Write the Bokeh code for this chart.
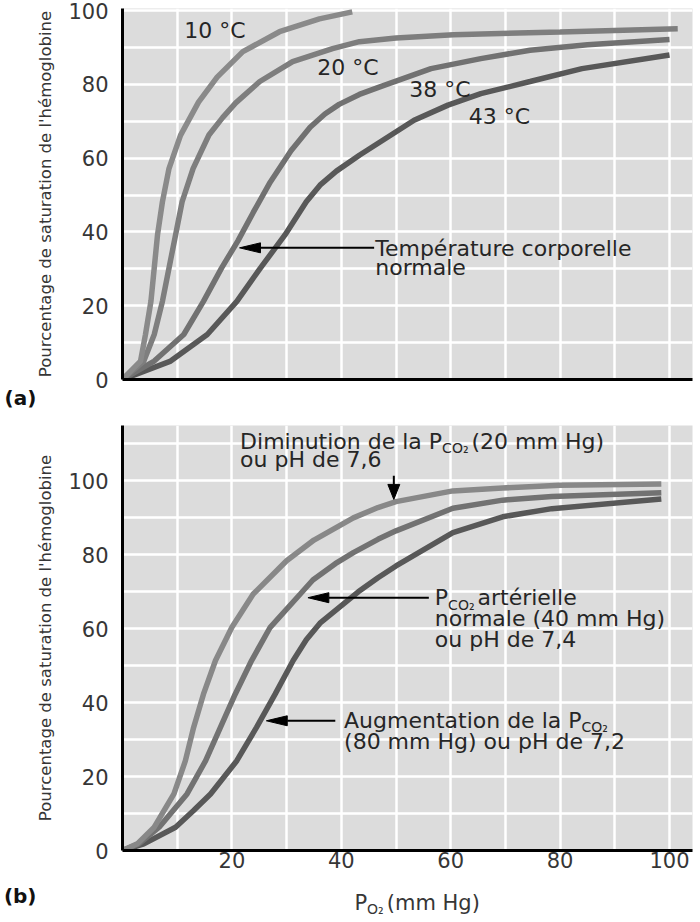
from bokeh.plotting import figure
from bokeh.models import Label, FixedTicker, Range1d, Title
from bokeh.layouts import column
from bokeh.embed import file_html
from bokeh.resources import INLINE

# ---------------- data ----------------
# (a) temperature effect
po2_10 = [0, 3.3, 4.2, 5.2, 5.8, 6.4, 7.3, 8.5, 10.6, 13.9, 17.3, 22.0, 28.7, 36.0, 42.0]
sat_10 = [0, 5.0, 12.2, 21.2, 30.2, 39.2, 48.2, 57.2, 66.2, 75.2, 82.0, 88.9, 94.3, 97.8, 99.7]

po2_20 = [0, 3.9, 5.8, 7.3, 8.5, 9.7, 10.9, 12.9, 15.8, 18.3, 20.7, 25.1, 31.1, 38.4, 43.3, 50.0, 60.5, 80.0, 101.5]
sat_20 = [0, 5.0, 12.2, 21.2, 30.2, 39.2, 48.2, 57.2, 66.3, 71.0, 75.0, 80.8, 86.2, 89.7, 91.6, 92.6, 93.5, 94.2, 95.1]

po2_38 = [0, 5.8, 11.2, 14.8, 18.1, 21.1, 23.9, 27.0, 30.8, 34.3, 37.0, 39.6, 43.3, 47.3, 56.4, 65.5, 74.5, 85.0, 100.0]
sat_38 = [0, 5.0, 12.2, 21.2, 30.2, 37.6, 45.3, 53.5, 62.0, 68.4, 72.0, 74.6, 77.3, 79.5, 84.3, 87.0, 89.3, 90.8, 92.2]

po2_43 = [0, 8.8, 15.5, 20.9, 25.2, 29.7, 33.6, 36.1, 39.1, 43.3, 47.3, 53.3, 59.5, 65.5, 74.5, 84.0, 100.0]
sat_43 = [0, 5.0, 12.2, 21.2, 30.2, 39.2, 48.2, 52.7, 56.5, 60.8, 64.6, 70.3, 74.4, 77.5, 80.8, 84.3, 88.0]

# (b) PCO2 / pH effect
po2_b20 = [0, 2.7, 5.8, 9.4, 11.5, 13.0, 14.8, 17.0, 20.0, 23.9, 30.0, 35.0, 42.2, 46.7, 50.0, 60.4, 69.5, 80.0, 98.5]
sat_b20 = [0, 1.8, 6.3, 15.3, 24.3, 33.3, 42.3, 51.4, 60.4, 69.4, 78.4, 84.0, 90.0, 92.8, 94.4, 97.3, 98.1, 98.8, 99.2]

po2_b40 = [0, 3.0, 6.7, 11.8, 15.2, 17.9, 20.6, 23.6, 27.0, 32.5, 34.8, 38.9, 42.2, 46.7, 50.0, 60.4, 69.5, 78.5, 98.5]
sat_b40 = [0, 1.8, 6.3, 15.3, 24.3, 33.3, 42.3, 51.4, 60.4, 69.4, 73.2, 77.6, 80.6, 84.2, 86.5, 92.6, 94.8, 95.8, 96.8]

po2_b80 = [0, 3.9, 9.7, 13.0, 16.1, 20.9, 24.5, 27.9, 31.2, 33.6, 36.1, 43.1, 46.7, 50.0, 60.4, 69.5, 78.5, 98.5]
sat_b80 = [0, 1.8, 6.3, 10.8, 15.3, 24.3, 33.3, 42.3, 51.4, 57.0, 61.5, 70.0, 73.8, 77.0, 86.0, 90.3, 92.5, 95.1]

y_ticks = [0, 20, 40, 60, 80, 100]
x_ticks_b = [20, 40, 60, 80, 100]
y_title = "Pourcentage de saturation de l'hémoglobine"

# ---------------- styling / layout ----------------
FONT = "DejaVu Sans"
TXT = "#262626"
TICK = "#363636"
TAG = "#111111"
BG = "#dcdcdc"
ANN = 22          # annotation font size (px)
SUB = 14          # subscript font size (px)

W = 700
BL, BR = 119, 8
XMAX = 104.2
H1, BT1, BB1, YMAX1 = 418, 8, 39, 100.6
H2, BT2, BB2, YMAX2 = 462, 7, 30, 115
HB = 42

SX = (W - BL - BR) / XMAX
SY1 = (H1 - BT1 - BB1) / YMAX1
SY2 = (H2 - BT2 - BB2) / YMAX2

# approximate DejaVu Sans advance widths (per 1000 em)
ADV = {' ': 318, '(': 390, ')': 390, ',': 318, '.': 318, "'": 275, '°': 500, '₂': 401,
       'A': 684, 'C': 698, 'D': 770, 'H': 752, 'O': 787, 'P': 603, 'T': 611,
       'a': 613, 'b': 635, 'c': 550, 'd': 635, 'e': 615, 'é': 615, 'g': 635, 'h': 634,
       'i': 278, 'l': 278, 'm': 974, 'n': 634, 'o': 612, 'p': 635, 'r': 411, 's': 521,
       't': 392, 'u': 634}
for d in "0123456789":
    ADV[d] = 636


def tw(s, size):
    return sum(ADV.get(c, 600) for c in s) * size / 1000.0


def run(p, x, y, pieces, color=TXT):
    off = 0.0
    for txt, size, dy in pieces:
        p.add_layout(Label(x=x, y=y, x_offset=off, y_offset=dy, text=txt,
                           text_font=FONT, text_font_size=f"{size}px",
                           text_baseline="middle", text_align="left",
                           text_color=color))
        off += tw(txt, size) + (3 if dy else 0)


def arrow_left(p, x_tail, x_tip, y, sy, L=21, Wd=10):
    xb = x_tip + L / SX
    p.line([x_tail, xb], [y, y], line_color="black", line_width=2)
    p.patch([x_tip, xb, xb], [y, y + Wd / 2 / sy, y - Wd / 2 / sy],
            fill_color="black", line_color="black", line_width=1)


def arrow_down(p, x, y_tail, y_tip, sy, L=15, Wd=12):
    yb = y_tip + L / sy
    p.line([x, x], [y_tail, yb], line_color="black", line_width=2)
    p.patch([x, x - Wd / 2 / SX, x + Wd / 2 / SX], [y_tip, yb, yb],
            fill_color="black", line_color="black", line_width=1)


def make_fig(h, bt, bb, ymax, grid_ymax):
    p = figure(width=W, height=h, output_backend="svg", toolbar_location=None,
               x_range=Range1d(0, XMAX), y_range=Range1d(0, ymax),
               min_border_left=BL, min_border_right=BR,
               min_border_top=bt, min_border_bottom=bb)
    p.background_fill_color = BG
    p.border_fill_color = "white"
    p.outline_line_color = None
    p.xgrid.ticker = FixedTicker(ticks=list(range(10, 101, 10)))
    p.ygrid.ticker = FixedTicker(ticks=list(range(10, grid_ymax + 1, 10)))
    for g in (p.xgrid, p.ygrid):
        g.grid_line_color = "white"
        g.grid_line_width = 2.5
    for ax in (p.xaxis, p.yaxis):
        ax.axis_line_color = "black"
        ax.axis_line_width = 3
        ax.major_tick_line_color = None
        ax.minor_tick_line_color = None
        ax.major_tick_out = 0
        ax.major_tick_in = 0
        ax.minor_tick_out = 0
        ax.major_label_text_font = FONT
        ax.major_label_text_font_size = "21px"
        ax.major_label_text_color = TICK
    p.yaxis.ticker = FixedTicker(ticks=y_ticks)
    p.yaxis.major_label_standoff = 14
    p.yaxis.axis_label = y_title
    p.yaxis.axis_label_text_font = FONT
    p.yaxis.axis_label_text_font_size = "16.5px"
    p.yaxis.axis_label_text_font_style = "normal"
    p.yaxis.axis_label_text_color = TICK
    p.yaxis.axis_label_standoff = 10
    return p


# ---------------- panel (a) ----------------
p1 = make_fig(H1, BT1, BB1, YMAX1, 100)
p1.xaxis.ticker = FixedTicker(ticks=[])
p1.xaxis.major_label_text_font_size = "0px"
p1.xaxis.major_label_standoff = 0

LW = 5.5
p1.line(po2_43, sat_43, line_color="#585858", line_width=LW)
p1.line(po2_38, sat_38, line_color="#717171", line_width=LW)
p1.line(po2_20, sat_20, line_color="#7e7e7e", line_width=LW)
p1.line(po2_10, sat_10, line_color="#8a8a8a", line_width=LW)

run(p1, 11.3, 94.6, [("10 °C", ANN, 0)])
run(p1, 35.6, 84.6, [("20 °C", ANN, 0)])
run(p1, 52.4, 78.6, [("38 °C", ANN, 0)])
run(p1, 63.3, 71.4, [("43 °C", ANN, 0)])
arrow_left(p1, 46.0, 21.4, 35.7, SY1)
run(p1, 46.2, 35.4, [("Température corporelle", ANN, 0)])
run(p1, 46.2, 30.3, [("normale", ANN, 0)])

# panel tag "(a)" as a title in the lower border, shifted to the page's left edge
p1.add_layout(Title(text="(a)", align="left", offset=-(BL - 1), vertical_align="middle",
                    standoff=10, text_font=FONT, text_font_size="20px",
                    text_font_style="bold", text_color=TAG), "below")

# ---------------- panel (b) ----------------
p2 = make_fig(H2, BT2, BB2, YMAX2, 110)
p2.xaxis.ticker = FixedTicker(ticks=x_ticks_b)
p2.xaxis.major_label_standoff = 1

p2.line(po2_b80, sat_b80, line_color="#585858", line_width=LW)
p2.line(po2_b40, sat_b40, line_color="#727272", line_width=LW)
p2.line(po2_b20, sat_b20, line_color="#888888", line_width=LW)

run(p2, 21.5, 110.8, [("Diminution de la P", ANN, 0), ("CO₂", SUB, -7), (" (20 mm Hg)", ANN, 0)])
run(p2, 21.5, 105.9, [("ou pH de 7,6", ANN, 0)])
arrow_down(p2, 49.6, 101.4, 95.0, SY2)

arrow_left(p2, 56.0, 33.9, 68.4, SY2)
run(p2, 57.1, 68.4, [("P", ANN, 0), ("CO₂", SUB, -7), (" artérielle", ANN, 0)])
run(p2, 57.1, 62.7, [("normale (40 mm Hg)", ANN, 0)])
run(p2, 57.1, 57.0, [("ou pH de 7,4", ANN, 0)])

arrow_left(p2, 38.9, 26.3, 35.1, SY2)
run(p2, 40.5, 35.3, [("Augmentation de la P", ANN, 0), ("CO₂", SUB, -7)])
run(p2, 40.5, 29.6, [("(80 mm Hg) ou pH de 7,2", ANN, 0)])

# ---------------- strip below panel (b): x title and "(b)" tag ----------------
sb = figure(width=W, height=HB, output_backend="svg", toolbar_location=None,
            x_range=Range1d(0, XMAX), y_range=Range1d(0, HB), x_axis_type=None,
            min_border_left=BL, min_border_right=BR, min_border_top=0, min_border_bottom=0)
sb.background_fill_color = "white"
sb.border_fill_color = "white"
sb.outline_line_color = None
sb.ygrid.grid_line_color = None
TAG_Y = 27
sb.yaxis.ticker = FixedTicker(ticks=[TAG_Y])
sb.yaxis.major_label_overrides = {TAG_Y: "(b)"}
sb.yaxis.axis_line_color = None
sb.yaxis.major_tick_line_color = None
sb.yaxis.minor_tick_line_color = None
sb.yaxis.major_tick_out = 0
sb.yaxis.major_tick_in = 0
sb.yaxis.major_label_standoff = 86
sb.yaxis.major_label_text_font = FONT
sb.yaxis.major_label_text_font_size = "20px"
sb.yaxis.major_label_text_font_style = "bold"
sb.yaxis.major_label_text_color = TAG

run(sb, 42.4, 20, [("P", 21, 0), ("O₂", 14, -6), (" (mm Hg)", 21, 0)], color=TICK)

layout = column(p1, p2, sb)
open("out.html", "w").write(file_html(layout, INLINE))
